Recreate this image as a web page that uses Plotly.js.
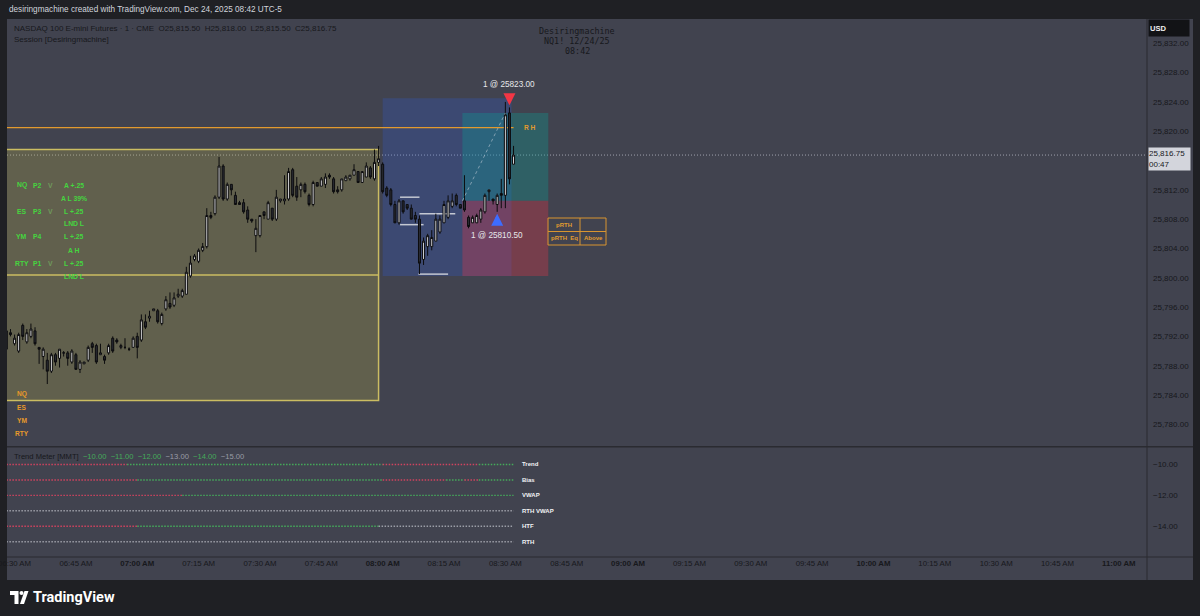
<!DOCTYPE html>
<html><head><meta charset="utf-8">
<script src="https://cdn.plot.ly/plotly-3.0.1.min.js"></script>
<style>html,body{margin:0;padding:0;background:#1f2024;}#chart{width:1200px;height:616px;}</style>
</head><body><div id="chart"></div>
<script>
// ---------------- DATA ----------------
const symbolTitle = 'NASDAQ 100 E-mini Futures · 1 · CME';
const firstBar = '06:28';
const opens = [25790.25,25792.50,25791.00,25790.00,25793.50,25791.25,25792.00,25792.75,25790.50,25789.25,
25788.75,25787.25,25789.50,25789.00,25789.75,25789.75,25788.50,25789.50,25787.50,25788.25,
25788.75,25791.00,25790.75,25789.50,25789.25,25789.75,25791.75,25791.50,25790.50,25790.50,
25790.25,25790.50,25792.00,25791.50,25794.00,25794.50,25795.50,25795.50,25793.75,25795.75,
25796.50,25796.25,25797.50,25797.50,25797.75,25800.25,25802.50,25802.25,25803.75,25804.25,
25808.50,25808.75,25811.00,25815.25,25810.75,25812.75,25811.25,25810.25,25810.25,25809.25,
25808.00,25805.75,25805.75,25809.00,25808.00,25809.50,25808.00,25810.50,25810.50,25810.75,
25814.75,25812.50,25812.00,25812.75,25811.25,25810.00,25813.00,25812.50,25812.75,25814.00,
25813.50,25812.00,25812.00,25813.25,25813.50,25814.00,25814.50,25813.00,25813.75,25815.00,
25813.50,25815.75,25815.50,25812.25,25812.00,25810.00,25807.50,25810.50,25810.00,25809.50,
25808.50,25808.00,25802.50,25804.25,25804.25,25805.00,25806.25,25807.50,25808.25,25809.75,
25811.25,25810.00,25810.50,25808.25,25807.50,25807.50,25808.00,25809.00,25811.75,25810.75,
25810.00,25811.50,25811.25,25822.50,25815.50];
const highs = [25793.00,25793.00,25792.25,25792.50,25793.75,25793.00,25793.75,25793.25,25790.50,25790.50,
25789.75,25789.75,25789.75,25790.25,25790.00,25790.00,25790.25,25789.75,25788.75,25788.50,
25790.75,25791.25,25791.00,25791.00,25789.50,25791.00,25792.00,25791.75,25791.00,25791.75,
25790.50,25792.00,25792.50,25795.00,25795.00,25795.50,25795.75,25795.75,25795.25,25797.50,
25798.00,25798.00,25798.50,25798.50,25801.50,25803.00,25803.25,25804.00,25804.75,25809.50,
25809.00,25811.25,25816.50,25815.50,25813.00,25812.75,25811.75,25810.50,25810.75,25809.75,
25808.00,25808.00,25808.50,25809.00,25810.50,25809.50,25812.00,25810.75,25814.00,25815.00,
25815.00,25813.75,25813.00,25813.00,25811.50,25813.25,25813.00,25813.75,25814.25,25814.25,
25813.75,25812.50,25813.50,25814.00,25814.00,25815.50,25814.50,25814.50,25815.75,25815.25,
25817.50,25818.00,25815.75,25812.50,25812.25,25810.50,25810.75,25810.50,25810.00,25810.00,
25809.00,25808.50,25805.50,25806.00,25806.50,25808.75,25808.50,25810.50,25811.25,25811.50,
25811.50,25810.00,25814.00,25808.50,25808.50,25808.75,25809.50,25811.50,25812.00,25810.75,
25811.50,25813.50,25824.00,25823.25,25818.00];
const lows = [25790.00,25792.00,25790.75,25789.75,25791.50,25791.00,25791.75,25790.75,25788.25,25787.50,
25785.50,25787.00,25788.00,25787.75,25789.25,25788.00,25788.25,25787.50,25787.00,25788.25,
25788.50,25789.75,25788.25,25789.50,25788.25,25789.50,25789.75,25791.00,25790.25,25790.25,
25790.00,25790.50,25789.00,25791.25,25793.00,25794.00,25795.50,25793.75,25793.50,25795.50,
25795.75,25796.00,25797.25,25797.25,25797.75,25800.00,25802.25,25802.00,25803.50,25804.00,
25808.00,25808.50,25810.75,25810.50,25810.50,25811.25,25810.00,25810.00,25808.75,25807.50,
25807.50,25803.50,25805.50,25808.00,25808.00,25807.75,25807.75,25810.25,25810.00,25810.50,
25811.00,25810.50,25811.00,25811.50,25809.75,25809.75,25812.50,25812.50,25812.25,25813.50,
25811.50,25811.50,25811.75,25813.25,25813.25,25814.00,25813.00,25813.00,25813.75,25813.50,
25813.25,25815.25,25811.50,25811.00,25809.75,25807.50,25807.25,25808.75,25809.25,25808.00,
25807.50,25800.50,25801.75,25803.00,25803.75,25805.00,25806.00,25807.50,25808.00,25809.50,
25809.75,25809.50,25809.00,25806.75,25807.50,25807.50,25807.50,25808.75,25810.50,25810.00,
25809.00,25809.50,25809.50,25812.75,25815.50];
const closes = [25792.75,25792.25,25791.75,25792.25,25792.00,25792.50,25793.00,25791.00,25790.25,25790.25,
25787.25,25789.50,25788.50,25790.25,25789.75,25789.00,25790.00,25787.50,25788.50,25788.50,
25790.50,25790.50,25788.50,25789.75,25788.75,25790.75,25790.00,25791.25,25790.75,25790.50,
25790.25,25791.75,25790.50,25794.25,25793.25,25794.75,25795.75,25794.00,25795.00,25797.00,
25796.00,25797.25,25797.75,25798.25,25800.75,25802.00,25803.00,25803.75,25804.25,25808.50,
25808.25,25811.00,25815.25,25810.75,25812.75,25812.00,25810.00,25810.00,25809.00,25808.00,
25807.75,25806.75,25808.50,25808.50,25810.25,25808.00,25811.00,25810.75,25810.75,25814.50,
25811.25,25811.00,25812.75,25811.75,25810.00,25813.00,25812.50,25813.50,25813.75,25813.75,
25811.75,25811.75,25813.50,25813.75,25814.00,25814.75,25813.00,25814.50,25815.25,25813.75,
25815.75,25816.25,25811.75,25811.25,25810.00,25807.50,25810.50,25809.00,25809.50,25808.00,
25808.00,25802.00,25805.00,25805.75,25805.50,25808.00,25808.00,25810.00,25810.50,25810.50,
25810.00,25809.50,25809.25,25807.00,25808.25,25808.50,25809.25,25811.25,25812.00,25810.50,
25811.25,25811.25,25822.25,25813.50,25816.75];

// price axis ticks (25,816 is hidden behind the last-price label in the reference)
const priceTicks = [25780,25784,25788,25792,25796,25800,25804,25808,25812,25820,25824,25828,25832];
const timeTickLabels = ['06:30 AM','06:45 AM','07:00 AM','07:15 AM','07:30 AM','07:45 AM','08:00 AM','08:15 AM','08:30 AM',
  '08:45 AM','09:00 AM','09:15 AM','09:30 AM','09:45 AM','10:00 AM','10:15 AM','10:30 AM','10:45 AM','11:00 AM'];
const countdown = '00:47';

// session box
const sessionHigh = 25817.50, sessionLow = 25783.25, sessionEnd = '07:59';
const rthHighLevel = 25820.50, rthHighEnd = '08:32', rthLabelTime = '08:36';
// range rectangle
const rangeTop = 25824.50, rangeBottom = 25800.25, rangeStart = '08:00', rangeEnd = '08:31:30';
// long position
const entryPrice = 25810.50, targetPrice = 25822.50, stopPrice = 25800.25;
const posStart = '08:19:30', posEnd = '08:40:30';
const entryTime = '08:28', entryBarLow = 25809.00;
const exitTime = '08:31', exitPrice = 25823.00, targetHitTime = '08:30';
// swing levels
const swingLevels = [25811.00, 25807.25, 25808.75, 25800.50];
const swingStarts = ['08:04:15','08:04:15','08:09','08:08:45'];
const swingEnds   = ['08:09','08:10','08:17:45','08:16'];

// session table (left)
const tableRows = [
  ['NQ','P2','V','A +.25'], ['','','','A L 39%'],
  ['ES','P3','V','L +.25'], ['','','','LND L'],
  ['YM','P4','','L +.25'], ['','','','A H'],
  ['RTY','P1','V','L +.25'], ['','','','LND L']];
const symbolList = ['NQ','ES','YM','RTY'];
const pRthTable = [['pRTH',''],['pRTH  Eq','Above']];

// trend meter
const meterRows = ['Trend','Bias','VWAP','RTH VWAP','HTF','RTH'];
const meterLevels = [-10,-11,-12,-13,-14,-15];
const meterBreaks = [
  ['06:28','06:57:30','08:00','08:23:30','08:32'],
  ['06:28','07:00','08:00','08:15:30','08:20','08:23:30','08:32'],
  ['06:28','07:11','08:32'],
  ['06:28','08:32'],
  ['06:28','07:00','07:59','08:32'],
  ['06:28','08:32']];
const meterStates = [
  ['bear','bull','bear','bull'],
  ['bear','bull','bear','bull','bear','bull'],
  ['bear','bull'],
  ['flat'],
  ['bear','bull','flat'],
  ['flat']];
const meterLegendStates = ['bull','bull','bull','flat','bull','flat'];

// ---------------- HELPERS ----------------
function addMin(hhmm, k) {
  const p = hhmm.split(':').map(Number);
  const ms = Date.UTC(2025, 11, 24, p[0], p[1], p[2] || 0) + Math.round(k * 60000);
  return new Date(ms).toISOString().slice(0, 19).replace('T', ' ');
}
const clk = s => addMin(s, 0);
const px2x = px => (px - 7) / 1140;
const py2y = py => (557 - py) / 538;
const pxTime = px => addMin('06:30', (px - 14.5) / 4.09);
const fmt = v => v.toLocaleString('en-US', {minimumFractionDigits: 2, maximumFractionDigits: 2});

const FONT = 'Liberation Sans, Arial, sans-serif';
const DARK = '#17181c';
const CHART_BG = '#41434f';
const stateColor = {bear: '#d0435f', bull: '#45ab5a', flat: '#9a9da6'};

const times = opens.map((_, i) => addMin(firstBar, i));
const n = closes.length;

// ---------------- TRACES ----------------
const traces = [];
traces.push({
  type: 'candlestick', x: times, open: opens, high: highs, low: lows, close: closes,
  xaxis: 'x', yaxis: 'y', whiskerwidth: 0, hoverinfo: 'skip',
  increasing: {line: {color: '#0c0c0e', width: 1}, fillcolor: '#d6d6d8'},
  decreasing: {line: {color: '#0c0c0e', width: 1}, fillcolor: '#2a2c34'}
});
// trade path (entry -> target)
traces.push({
  type: 'scatter', mode: 'lines', x: [clk(posStart), clk(targetHitTime)], y: [entryPrice, targetPrice],
  xaxis: 'x', yaxis: 'y', hoverinfo: 'skip',
  line: {color: 'rgba(215,220,230,0.5)', width: 1, dash: '3px,3px'}
});
// trend meter rows
meterRows.forEach((r, k) => {
  const br = meterBreaks[k];
  meterStates[k].forEach((st, s) => {
    traces.push({
      type: 'scatter', mode: 'lines', x: [clk(br[s]), clk(br[s + 1])], y: [meterLevels[k], meterLevels[k]],
      xaxis: 'x', yaxis: 'y2', hoverinfo: 'skip',
      line: {color: stateColor[st], width: 1.4, dash: '1.5px,1.5px'}
    });
  });
});

// ---------------- SHAPES ----------------
const shapes = [];
const pRect = (x0, y0, x1, y1, fill, layer) => ({type: 'rect', xref: 'paper', yref: 'paper',
  x0: px2x(x0), x1: px2x(x1), y0: py2y(y0), y1: py2y(y1), fillcolor: fill, line: {width: 0}, layer: layer || 'below'});
const pLine = (x0, y0, x1, y1, color, w) => ({type: 'line', xref: 'paper', yref: 'paper',
  x0: px2x(x0), x1: px2x(x1), y0: py2y(y0), y1: py2y(y1), line: {color: color, width: w}, layer: 'above'});

shapes.push(pRect(7, 19, 1193, 580, CHART_BG));
// session box
shapes.push({type: 'rect', xref: 'x', yref: 'y', x0: clk('05:30'), x1: clk(sessionEnd), y0: sessionLow, y1: sessionHigh,
  fillcolor: 'rgba(190,180,72,0.26)', line: {color: '#cbbd62', width: 1.5}, layer: 'below'});
shapes.push({type: 'line', xref: 'x', yref: 'y', x0: clk('05:30'), x1: clk(sessionEnd),
  y0: (sessionHigh + sessionLow) / 2, y1: (sessionHigh + sessionLow) / 2, line: {color: '#cbbd62', width: 1.5}, layer: 'below'});
// range rect
shapes.push({type: 'rect', xref: 'x', yref: 'y', x0: clk(rangeStart), x1: clk(rangeEnd), y0: rangeBottom, y1: rangeTop,
  fillcolor: 'rgba(41,98,255,0.2)', line: {width: 0}, layer: 'below'});
// position tool
shapes.push({type: 'rect', xref: 'x', yref: 'y', x0: clk(posStart), x1: clk(posEnd), y0: entryPrice, y1: targetPrice,
  fillcolor: 'rgba(8,160,150,0.32)', line: {width: 0}, layer: 'below'});
shapes.push({type: 'rect', xref: 'x', yref: 'y', x0: clk(posStart), x1: clk(posEnd), y0: stopPrice, y1: entryPrice,
  fillcolor: 'rgba(242,54,69,0.3)', line: {width: 0}, layer: 'below'});
// rth high line
shapes.push({type: 'line', xref: 'x', yref: 'y', x0: clk('05:30'), x1: clk(rthHighEnd), y0: rthHighLevel, y1: rthHighLevel,
  line: {color: '#e39a2e', width: 1.2}, layer: 'below'});
// swing levels
swingLevels.forEach((lv, k) => shapes.push({type: 'line', xref: 'x', yref: 'y', x0: clk(swingStarts[k]), x1: clk(swingEnds[k]),
  y0: lv, y1: lv, line: {color: '#c4c8d2', width: 1.5}, layer: 'below'}));
// last price dotted line
shapes.push({type: 'line', xref: 'paper', yref: 'y', x0: 0, x1: 1, y0: closes[n - 1], y1: closes[n - 1],
  line: {color: 'rgba(190,194,204,0.75)', width: 1, dash: '1px,2px'}, layer: 'below'});
// pane separators
shapes.push(pLine(7, 446.7, 1193, 446.7, '#2a2b31', 1.5));
shapes.push(pLine(7, 557, 1193, 557, '#2a2b31', 1));
shapes.push(pLine(1147, 19, 1147, 580, '#2a2b31', 1));
// pRTH table grid
const tb = {x0: 548, x1: 606, xm: 580, y0: 218, y1: 245, ym: 231.5};
shapes.push({type: 'rect', xref: 'paper', yref: 'paper', x0: px2x(tb.x0), x1: px2x(tb.x1), y0: py2y(tb.y0), y1: py2y(tb.y1),
  fillcolor: 'rgba(0,0,0,0)', line: {color: '#d99530', width: 1}, layer: 'above'});
shapes.push(pLine(tb.xm, tb.y0, tb.xm, tb.y1, '#d99530', 1));
shapes.push(pLine(tb.x0, tb.ym, tb.x1, tb.ym, '#d99530', 1));
// TradingView logo
const P = (x, y) => px2x(x).toFixed(5) + ' ' + py2y(y).toFixed(5);
shapes.push({type: 'path', xref: 'paper', yref: 'paper', fillcolor: '#ffffff', line: {width: 0}, layer: 'above',
  path: 'M ' + P(10, 591) + ' L ' + P(18.5, 591) + ' L ' + P(18.5, 604) + ' L ' + P(14.5, 604) + ' L ' + P(14.5, 595) + ' L ' + P(10, 595) + ' Z'});
shapes.push({type: 'circle', xref: 'paper', yref: 'paper', fillcolor: '#ffffff', line: {width: 0}, layer: 'above',
  x0: px2x(19.5), x1: px2x(23.5), y0: py2y(595), y1: py2y(591)});
shapes.push({type: 'path', xref: 'paper', yref: 'paper', fillcolor: '#ffffff', line: {width: 0}, layer: 'above',
  path: 'M ' + P(20, 604) + ' L ' + P(24, 604) + ' L ' + P(28.5, 591) + ' L ' + P(24.5, 591) + ' Z'});

// ---------------- ANNOTATIONS ----------------
const ann = [];
const pText = (px, py, text, opts) => Object.assign({xref: 'paper', yref: 'paper', x: px2x(px), y: py2y(py), text: text,
  showarrow: false, xanchor: 'left', yanchor: 'middle', font: {family: FONT, size: 8, color: DARK}}, opts || {});

ann.push(pText(7, 9.5, 'desiringmachine created with TradingView.com, Dec 24, 2025 08:42 UTC-5', {font: {family: FONT, size: 8.2, color: '#d1d4dc'}}));
const L = n - 1;
ann.push(pText(12, 28, symbolTitle + '  O' + fmt(opens[L]) + '  H' + fmt(highs[L]) + '  L' + fmt(lows[L]) + '  C' + fmt(closes[L]),
  {font: {family: FONT, size: 8, color: DARK}}));
ann.push(pText(12, 39, 'Session [Desiringmachine]', {font: {family: FONT, size: 8, color: DARK}}));
// watermark
['Desiringmachine', 'NQ1! 12/24/25', '08:42'].forEach((t, k) =>
  ann.push(pText(577, 31 + k * 9.8, t, {xanchor: 'center', font: {family: 'DejaVu Sans Mono, monospace', size: 8.4, color: DARK}})));
// left table
const colX = [21.5, 37.5, 50.5, 73.5];
tableRows.forEach((row, r) => row.forEach((cell, c) => {
  if (!cell) return;
  ann.push(pText(colX[c], 185 + r * 13, '<b>' + cell + '</b>', {xanchor: 'center',
    font: {family: FONT, size: 6.8, color: c === 2 ? '#6f9a5c' : '#45d63f'}}));
}));
symbolList.forEach((s, k) => ann.push(pText(21.5, 394 + k * 13, '<b>' + s + '</b>', {xanchor: 'center',
  font: {family: FONT, size: 6.6, color: '#e89a2a'}})));
// RTH label
ann.push({xref: 'x', yref: 'y', x: clk(rthLabelTime), y: rthHighLevel, text: '<b>R H</b>', showarrow: false,
  font: {family: FONT, size: 6.6, color: '#e39a2e'}});
// trade markers
ann.push({xref: 'x', yref: 'y', x: clk(exitTime), y: exitPrice, text: '', showarrow: true, arrowhead: 2, arrowsize: 0.8,
  arrowwidth: 3, arrowcolor: '#f23645', ax: 0, ay: -14, standoff: 4});
ann.push({xref: 'x', yref: 'y', x: clk(exitTime), y: exitPrice, yshift: 25, text: '1 @ ' + exitPrice.toFixed(2), showarrow: false,
  xanchor: 'center', font: {family: FONT, size: 8.2, color: '#e6e7ea'}});
ann.push({xref: 'x', yref: 'y', x: clk(entryTime), y: entryBarLow, text: '', showarrow: true, arrowhead: 2, arrowsize: 0.8,
  arrowwidth: 3, arrowcolor: '#3d6cff', ax: 0, ay: 14, standoff: 2});
ann.push({xref: 'x', yref: 'y', x: clk(entryTime), y: entryBarLow, yshift: -23.5, text: '1 @ ' + entryPrice.toFixed(2), showarrow: false,
  xanchor: 'center', font: {family: FONT, size: 8.2, color: '#e6e7ea'}});
// pRTH table text
ann.push(pText(564, 224.8, '<b>' + pRthTable[0][0] + '</b>', {xanchor: 'center', font: {family: FONT, size: 6, color: '#e09b30'}}));
ann.push(pText(564, 238.3, '<b>' + pRthTable[1][0] + '</b>', {xanchor: 'center', font: {family: FONT, size: 6, color: '#e09b30'}}));
ann.push(pText(593, 238.3, '<b>' + pRthTable[1][1] + '</b>', {xanchor: 'center', font: {family: FONT, size: 6, color: '#e09b30'}}));
// trend meter legend
const legendVals = meterLevels.map((v, k) => '<span style="color:' + stateColor[meterLegendStates[k]] + '">' + '\u2212' + Math.abs(v).toFixed(2) + '</span>');
ann.push(pText(12, 456.8, '<span style="color:' + DARK + '">Trend Meter [MMT]</span>  ' + legendVals.join('  '),
  {font: {family: FONT, size: 7.6, color: DARK}}));
// meter row labels
meterRows.forEach((r, k) => ann.push({xref: 'x', yref: 'y2', x: pxTime(520), y: meterLevels[k], text: '<b>' + r + '</b>',
  showarrow: false, xanchor: 'left', font: {family: FONT, size: 6, color: '#f2f3f5'}}));
// last price label
ann.push({xref: 'paper', yref: 'y', x: px2x(1148), y: closes[L], yshift: -3.6, xanchor: 'left', yanchor: 'middle',
  text: fmt(closes[L]) + '<br>' + countdown, showarrow: false, bgcolor: '#d3d5dc', width: 41, height: 22, align: 'left',
  borderpad: 0, font: {family: FONT, size: 8, color: DARK}});
// USD box
ann.push(pText(1169.5, 28.5, '<b>USD</b>', {xanchor: 'center', bgcolor: '#121316', width: 38, height: 14, align: 'left',
  font: {family: FONT, size: 7.6, color: '#f0f0f0'}}));
// footer
ann.push(pText(31, 597.5, '<b>TradingView</b>', {font: {family: 'Roboto, ' + FONT, size: 14.5, color: '#ffffff'}}));

// ---------------- LAYOUT ----------------
const xr = [pxTime(7), pxTime(1147)];
const tickVals = timeTickLabels.map(l => clk(l.slice(0, 5)));
const tickText = timeTickLabels.map(l => l.slice(3, 5) === '00' ? '<b>' + l + '</b>' : l);

const layout = {
  width: 1200, height: 616,
  margin: {l: 7, r: 53, t: 19, b: 59, pad: 0},
  paper_bgcolor: '#1f2024', plot_bgcolor: CHART_BG,
  showlegend: false,
  xaxis: {type: 'date', range: xr, anchor: 'y2', tickmode: 'array', tickvals: tickVals, ticktext: tickText,
    tickfont: {family: FONT, size: 7.8, color: DARK}, showgrid: false, zeroline: false, showline: false, ticks: '',
    ticklabeloverflow: 'allow', rangeslider: {visible: false}, fixedrange: true},
  yaxis: {domain: [py2y(446), 1], range: [25777.04, 25835.32], side: 'right', tickmode: 'array', tickvals: priceTicks,
    tickformat: ',.2f', tickfont: {family: FONT, size: 8, color: DARK}, showgrid: false, zeroline: false, ticks: '',
    ticklabelstandoff: 5, fixedrange: true},
  yaxis2: {domain: [0, py2y(447.5)], range: [-15.99, -8.90], side: 'right', tickmode: 'array', tickvals: [-10, -12, -14],
    tickformat: '.2f', tickfont: {family: FONT, size: 8, color: DARK}, showgrid: false, zeroline: false, ticks: '',
    ticklabelstandoff: 5, fixedrange: true},
  shapes: shapes,
  annotations: ann
};

Plotly.newPlot('chart', traces, layout, {displayModeBar: false, staticPlot: true});
</script>
</body></html>
